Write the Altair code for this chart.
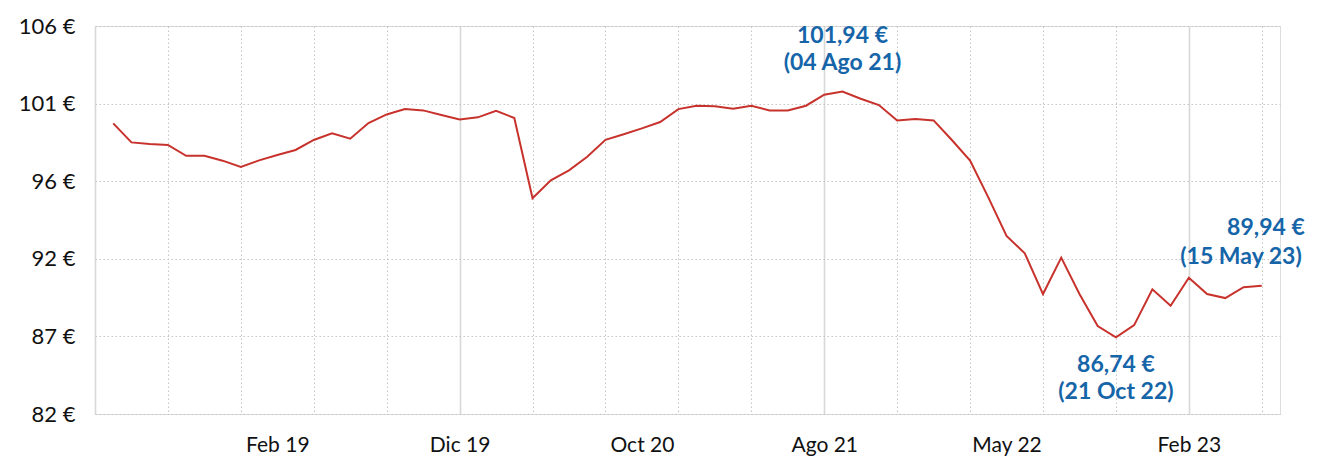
import altair as alt
import pandas as pd

# ---- data ----
prices = [
    99.98, 98.80, 98.70, 98.64, 97.97, 97.97, 97.67, 97.28, 97.69, 98.02,
    98.33, 98.95, 99.36, 99.03, 100.00, 100.53, 100.86, 100.78, 100.49, 100.22,
    100.35, 100.76, 100.31, 95.34, 96.45, 97.07, 97.91, 98.96, 99.30, 99.67,
    100.06, 100.86, 101.07, 101.03, 100.88, 101.07, 100.78, 100.78, 101.07, 101.75,
    101.94, 101.50, 101.11, 100.16, 100.24, 100.16, 98.95, 97.67, 95.40, 93.01,
    91.94, 89.42, 91.67, 89.42, 87.44, 86.74, 87.50, 89.71, 88.70, 90.43,
    89.42, 89.17, 89.84, 89.94,
]
x_label_idx = [9, 19, 29, 39, 49, 59]
x_labels = ["Feb 19", "Dic 19", "Oct 20", "Ago 21", "May 22", "Feb 23"]
y_ticks = [82, 86.8, 91.6, 96.4, 101.2, 106]

ann_idx = [40, 55, 63]
ann_value = ["101,94 €", "86,74 €", "89,94 €"]
ann_date = ["(04 Ago 21)", "(21 Oct 22)", "(15 May 23)"]

df = pd.DataFrame({"i": list(range(len(prices))), "price": prices})
ann = pd.DataFrame({
    "i": ann_idx,
    "price": [prices[k] for k in ann_idx],
    "v": ann_value,
    "d": ann_date,
})

FONT = "Lato"
BLUE = "#1565a8"
RED = "#c8322c"

grid_vals = list(range(-1, 64, 4))
axis_vals = sorted(set(grid_vals) | set(x_label_idx))
solid = [-1, 19, 39, 59]
hidden = [v for v in axis_vals if v not in grid_vals]

def test_in(vals):
    return " || ".join(f"datum.value == {v}" for v in vals)

label_expr = ""
for k, lab in zip(x_label_idx, x_labels):
    label_expr += f"datum.value == {k} ? '{lab}' : "
label_expr += "''"

DOT = [1.5, 2.5]

x_enc = alt.X(
    "i:Q",
    scale=alt.Scale(domain=[-1, 64], nice=False, zero=False),
    axis=alt.Axis(
        values=axis_vals,
        labelExpr=label_expr,
        title=None,
        domain=False,
        ticks=False,
        labelFont=FONT,
        labelFontSize=21,
        labelColor="#111111",
        labelPadding=20,
        labelFlush=False,
        labelOverlap=False,
        grid=True,
        gridOpacity={"condition": {"test": test_in(hidden), "value": 0}, "value": 1},
        gridDash={"condition": {"test": test_in(solid), "value": [1, 0]}, "value": DOT},
        gridColor={"condition": {"test": test_in(solid), "value": "#d8d8d8"}, "value": "#c4c4c4"},
        gridWidth={"condition": {"test": test_in(solid), "value": 1.6}, "value": 1},
    ),
)
y_enc = alt.Y(
    "price:Q",
    scale=alt.Scale(domain=[82, 106], nice=False, zero=False),
    axis=alt.Axis(
        values=y_ticks,
        labelExpr="round(datum.value) + ' €'",
        title=None,
        domain=False,
        ticks=False,
        labelFont=FONT,
        labelFontSize=22,
        labelColor="#111111",
        labelPadding=20,
        grid=True,
        gridDash=DOT,
        gridColor="#c4c4c4",
        gridWidth=1,
    ),
)

line = alt.Chart(df).mark_line(color=RED, strokeWidth=2).encode(x=x_enc, y=y_enc)

max_a = ann[ann.i == ann_idx[0]]
min_a = ann[ann.i == ann_idx[1]]
last_a = ann[ann.i == ann_idx[2]]

def ann_layer(data, text_field, align, dx, dy):
    return alt.Chart(data).mark_text(
        font=FONT, fontSize=23, fontWeight="bold", color=BLUE,
        align=align, baseline="alphabetic", dx=dx, dy=dy,
    ).encode(x="i:Q", y="price:Q", text=f"{text_field}:N")

layers = [
    line,
    ann_layer(max_a, "v", "center", 0, -49),
    ann_layer(max_a, "d", "center", 0, -22),
    ann_layer(min_a, "v", "center", 0, 35),
    ann_layer(min_a, "d", "center", 0, 62),
    ann_layer(last_a, "v", "right", 43, -51),
    ann_layer(last_a, "d", "right", 40, -22),
]

chart = alt.layer(*layers).properties(
    width=1185,
    height=388,
    autosize=alt.AutoSizeParams(type="none"),
    padding={"left": 87, "top": 18, "right": 31, "bottom": 42},
).configure_view(stroke=None).configure(background="white")

chart.save("out.html", embed_options={"renderer": "svg", "actions": False})
